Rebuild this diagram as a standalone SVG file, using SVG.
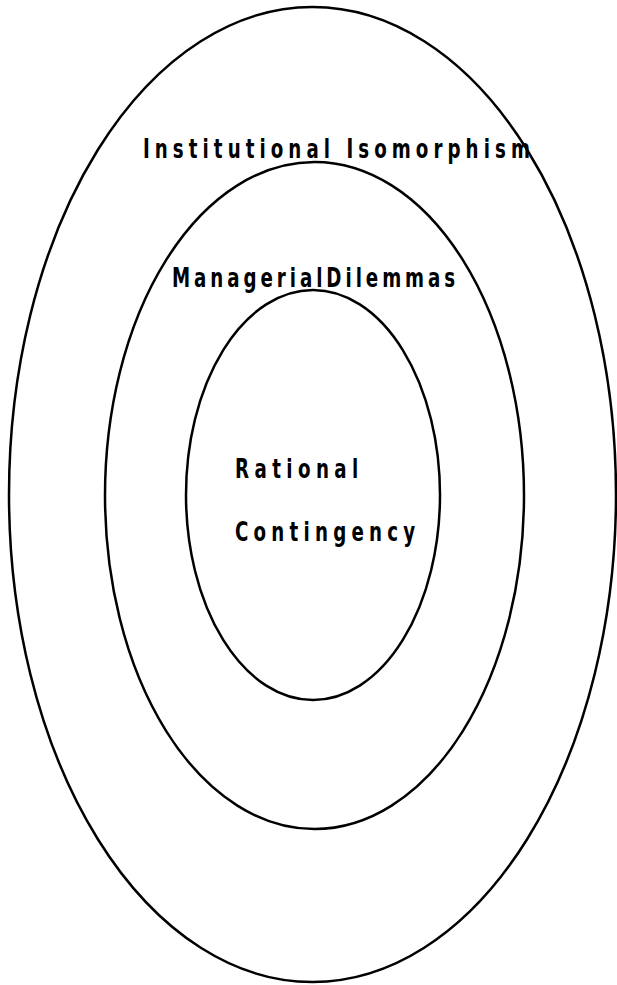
<svg xmlns="http://www.w3.org/2000/svg" width="617" height="985" viewBox="0 0 617 985">
<style>
.ring{fill:none;stroke:#000;stroke-width:2.5}
.lbl{font-family:"DejaVu Sans Condensed","DejaVu Sans","Liberation Sans",sans-serif;font-weight:bold;font-size:26px;fill:#000}
</style>
<rect width="617" height="985" fill="#fff"/>
<g id="institutional-isomorphism">
<ellipse class="ring" cx="312.5" cy="494.5" rx="303.5" ry="487.5"/>
<g transform="translate(143,158) scale(0.78,1)">
<text class="lbl" x="0" y="0" textLength="496" lengthAdjust="spacing">Institutional Isomorphism</text>
</g>
</g>
<g id="managerial-dilemmas">
<ellipse class="ring" cx="314.5" cy="495.5" rx="209.5" ry="333.5"/>
<g transform="translate(172,287) scale(0.78,1)">
<text class="lbl" x="0" y="0" textLength="363" lengthAdjust="spacing">ManagerialDilemmas</text>
</g>
</g>
<g id="rational-contingency">
<ellipse class="ring" cx="313" cy="495" rx="127" ry="205"/>
<g transform="translate(235,478) scale(0.78,1)">
<text class="lbl" x="0" y="0" textLength="158" lengthAdjust="spacing">Rational</text>
</g>
<g transform="translate(235,541) scale(0.78,1)">
<text class="lbl" x="0" y="0" textLength="231" lengthAdjust="spacing">Contingency</text>
</g>
</g>
<g id="connectors"></g>
</svg>
